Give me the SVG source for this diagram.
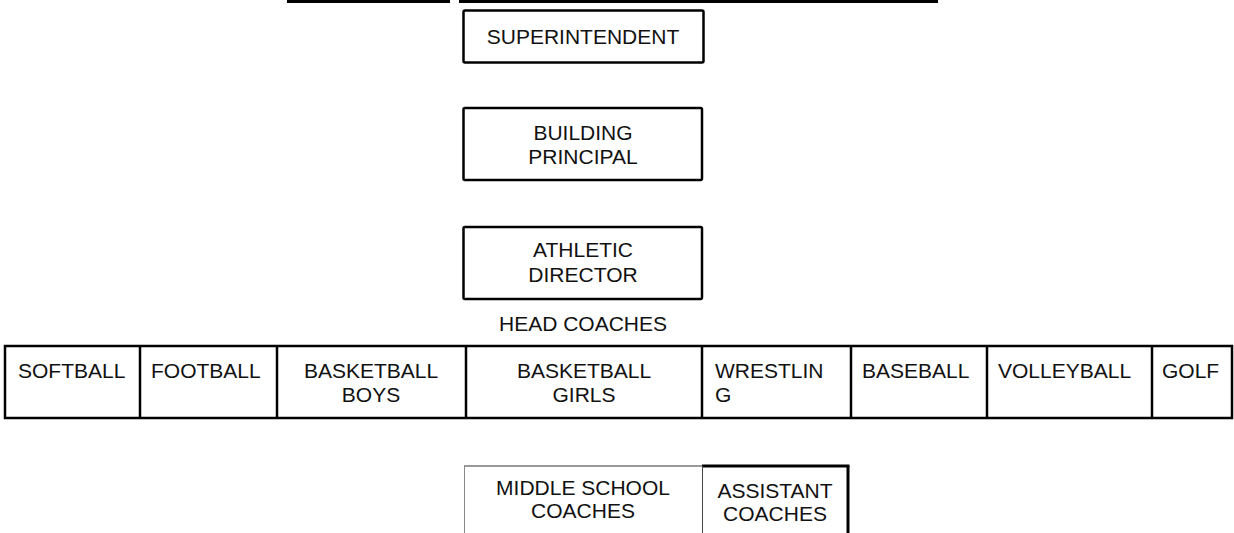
<svg xmlns="http://www.w3.org/2000/svg" width="1234" height="533" viewBox="0 0 1234 533">
<style>
.t{font-family:"Liberation Sans",Arial,sans-serif;font-size:21px;fill:#111;}
.c{text-anchor:middle;}
.box{fill:#fff;stroke:#000;stroke-width:2.5;}
.cell{fill:none;stroke:#000;stroke-width:2.5;}
</style>
<rect width="1234" height="533" fill="#fff"/>
<g id="connectors">
<line x1="287" y1="1.5" x2="450" y2="1.5" stroke="#000" stroke-width="3"/>
<line x1="459" y1="1.5" x2="938" y2="1.5" stroke="#000" stroke-width="3"/>
</g>
<g id="superintendent">
<rect class="box" x="463.5" y="10.5" width="240" height="52" rx="1.5"/>
<text class="t c" x="583" y="44">SUPERINTENDENT</text>
</g>
<g id="principal">
<rect class="box" x="463.5" y="108" width="238.5" height="72" rx="1.5"/>
<text class="t c" x="583" y="140">BUILDING</text>
<text class="t c" x="583" y="164">PRINCIPAL</text>
</g>
<g id="athletic-director">
<rect class="box" x="463.5" y="227" width="238.5" height="72" rx="1.5"/>
<text class="t c" x="583" y="257">ATHLETIC</text>
<text class="t c" x="583" y="282">DIRECTOR</text>
</g>
<g id="head-coaches-label">
<text class="t c" x="583" y="331">HEAD COACHES</text>
</g>
<g id="head-coaches">
<rect class="cell" x="5" y="346" width="1227" height="72"/>
<line class="cell" x1="140" y1="346" x2="140" y2="418"/>
<line class="cell" x1="277" y1="346" x2="277" y2="418"/>
<line class="cell" x1="466" y1="346" x2="466" y2="418"/>
<line class="cell" x1="702" y1="346" x2="702" y2="418"/>
<line class="cell" x1="851" y1="346" x2="851" y2="418"/>
<line class="cell" x1="987" y1="346" x2="987" y2="418"/>
<line class="cell" x1="1152" y1="346" x2="1152" y2="418"/>
<text class="t" x="18" y="378">SOFTBALL</text>
<text class="t" x="151" y="378">FOOTBALL</text>
<text class="t c" x="371" y="378">BASKETBALL</text>
<text class="t c" x="371" y="402">BOYS</text>
<text class="t c" x="584" y="378">BASKETBALL</text>
<text class="t c" x="584" y="402">GIRLS</text>
<text class="t" x="715" y="378">WRESTLIN</text>
<text class="t" x="715" y="402">G</text>
<text class="t" x="862" y="378">BASEBALL</text>
<text class="t" x="998" y="378">VOLLEYBALL</text>
<text class="t" x="1162" y="378">GOLF</text>
</g>
<g id="middle-school">
<line x1="464" y1="466" x2="702" y2="466" stroke="#999" stroke-width="2"/>
<line x1="464.5" y1="466" x2="464.5" y2="533" stroke="#888" stroke-width="1"/>
<text class="t c" x="583" y="495">MIDDLE SCHOOL</text>
<text class="t c" x="583" y="518">COACHES</text>
</g>
<g id="assistant-coaches">
<line x1="702" y1="466" x2="849.5" y2="466" stroke="#000" stroke-width="3"/>
<line x1="848" y1="466" x2="848" y2="533" stroke="#000" stroke-width="3"/>
<line x1="702.5" y1="466" x2="702.5" y2="533" stroke="#444" stroke-width="1"/>
<text class="t c" x="775" y="498">ASSISTANT</text>
<text class="t c" x="775" y="521">COACHES</text>
</g>
</svg>
